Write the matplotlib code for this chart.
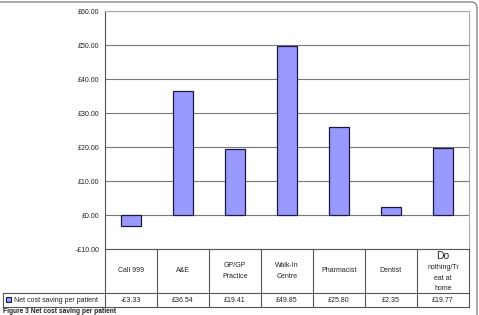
import numpy as np
import matplotlib.pyplot as plt
from matplotlib.patches import FancyBboxPatch, Rectangle

# data
kategorier = ["Call 999", "A&E", "GP/GP\nPractice", "Walk-In\nCentre", "Pharmacist", "Dentist", "nothing/Tr\neat at\nhome"]
verdier = [-3.33, 36.54, 19.41, 49.85, 25.80, 2.35, 19.77]
verdi_tekst = ["-£3.33", "£36.54", "£19.41", "£49.85", "£25.80", "£2.35", "£19.77"]
serie_navn = "Net cost saving per patient"
yticks = [-10, 0, 10, 20, 30, 40, 50, 60]

plt.rcParams['font.family'] = ['Liberation Sans', 'DejaVu Sans']

W, H = 479, 315
fig = plt.figure(figsize=(W/100, H/100), dpi=100)
fs = 5.0

def boks(x0, y0, x1, y1):
    # pixel-koordinater (fra toppen) -> figurkoordinater
    return [x0/W, 1 - y1/H, (x1-x0)/W, (y1-y0)/H]

# ytre ramme
bg = fig.add_axes([0, 0, 1, 1])
bg.set_xlim(0, W)
bg.set_ylim(H, 0)
bg.axis("off")
bg.add_patch(FancyBboxPatch((-10, 2), 487, 330, boxstyle="round,pad=0,rounding_size=6",
                            fc="white", ec="#888888", lw=1.0))

x0, x1 = 105, 469
ax = fig.add_axes(boks(x0, 11, x1, 249))
n = len(verdier)
x = np.arange(n)
ax.bar(x, verdier, width=0.4, color="#9999FF", edgecolor="#1a1a40", linewidth=0.9, zorder=3)
ax.set_xlim(-0.5, n - 0.5)
ax.set_ylim(-10, 60)
ax.set_yticks(yticks)
ax.set_yticklabels([f"-£{abs(v):.2f}" if v < 0 else f"£{v:.2f}" for v in yticks], fontsize=fs, color="#222222")
ax.set_xticks([])
ax.tick_params(axis="y", length=0, pad=4)
ax.grid(axis="y", color="#777777", linewidth=0.8, zorder=0)
for s in ["top", "right"]:
    ax.spines[s].set_color("#aaaaaa")
ax.spines["left"].set_color("#555555")
ax.spines["bottom"].set_visible(False)

# tabell
tb = fig.add_axes([0, 0, 1, 1], facecolor="none")
tb.set_xlim(0, W)
tb.set_ylim(H, 0)
tb.axis("off")
kol = np.linspace(x0, x1, n + 1)
lc = "#555555"
tb.plot([x0, x1], [249, 249], color=lc, lw=0.8)
tb.plot([3, x1], [293, 293], color=lc, lw=0.8)
tb.plot([3, x1], [307, 307], color=lc, lw=0.8)
tb.plot([3, 3], [293, 307], color=lc, lw=0.8)
for k in kol:
    tb.plot([k, k], [249, 307], color=lc, lw=0.8)
for i in range(n):
    cx = (kol[i] + kol[i+1]) / 2
    if i == n - 1:
        tb.text(cx, 256, "Do", fontsize=7.5, ha="center", va="center", color="#222222")
        tb.text(cx, 278, kategorier[i], fontsize=fs, ha="center", va="center", color="#222222", linespacing=1.7)
    else:
        tb.text(cx, 271, kategorier[i], fontsize=fs, ha="center", va="center", color="#222222", linespacing=1.7)
    tb.text(cx, 300.5, verdi_tekst[i], fontsize=fs, ha="center", va="center", color="#222222")
tb.add_patch(Rectangle((6, 297), 5, 5, fc="#9999FF", ec="#1a1a40", lw=0.8))
tb.text(14, 300.5, serie_navn, fontsize=fs, ha="left", va="center", color="#222222")
tb.text(3, 311.5, "Figure 3 Net cost saving per patient", fontsize=4.8, ha="left", va="center",
        color="#222222", fontweight="bold")

fig.savefig("out.png", dpi=100)
